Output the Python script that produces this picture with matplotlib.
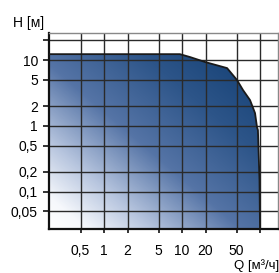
import numpy as np
import matplotlib
matplotlib.use('Agg')
import matplotlib.pyplot as plt
from matplotlib.colors import LinearSegmentedColormap
from matplotlib.patches import Polygon

plt.rcParams['font.family'] = ['Liberation Sans Narrow', 'Liberation Sans', 'DejaVu Sans']

# pump field envelope (Q in m3/h, H in m)
q_curve = [0.2, 9.4, 12.7, 20, 37.8, 50.7, 60.5, 74.5, 86.3, 91.5, 94, 98.5, 100]
h_curve = [12.3, 12.3, 11.1, 9.3, 7.55, 4.97, 3.5, 2.46, 1.56, 0.95, 0.86, 0.149, 0.027]

x_ticks = [0.5, 1, 2, 5, 10, 20, 50, 100]
x_labels = ['0,5', '1', '2', '5', '10', '20', '50', '']
y_ticks = [0.05, 0.1, 0.2, 0.5, 1, 2, 5, 10, 20]
y_labels = ['0,05', '0,1', '0,2', '0,5', '1', '2', '5', '10', '']

xmin, xmax = 0.197, 170
ymin, ymax = 0.027, 25.8

fig = plt.figure(figsize=(2.79, 2.73), dpi=100)
ax = fig.add_axes([49 / 279, 44 / 273, 229 / 279, 196 / 273])
ax.set_xscale('log')
ax.set_yscale('log')
ax.set_xlim(xmin, xmax)
ax.set_ylim(ymin, ymax)

# gradient fill clipped to the envelope
cmap = LinearSegmentedColormap.from_list('pump', [
    (0.0, '#ffffff'), (0.08, '#f6f8fc'), (0.22, '#b8c6df'),
    (0.42, '#5574a6'), (0.65, '#2d5589'), (1.0, '#07356a')])
u, v = np.meshgrid(np.linspace(0, 1, 300), np.linspace(0, 1, 300))
grad = np.clip((u + v) / 2.0, 0, 1)
img = ax.imshow(grad, cmap=cmap, vmin=0, vmax=1, origin='lower',
                extent=[0, 1, 0, 1], transform=ax.transAxes,
                aspect='auto', zorder=0.5, interpolation='bilinear')
pts = list(zip(q_curve, h_curve)) + [(xmin, ymin)]
poly = Polygon(pts, closed=True, transform=ax.transData,
               facecolor='none', edgecolor='none')
ax.add_patch(poly)
img.set_clip_path(poly)

ax.plot(q_curve, h_curve, color='#1a1a1a', lw=1.3, zorder=3)

ax.set_xticks(x_ticks)
ax.set_xticklabels(x_labels)
ax.set_yticks(y_ticks)
ax.set_yticklabels(y_labels)
ax.minorticks_off()
ax.tick_params(axis='both', direction='out', width=1.2,
               color='#111111', labelsize=10)
ax.tick_params(axis='x', length=3, pad=7.5)
ax.tick_params(axis='y', length=4.5, pad=3.5)
ax.grid(True, color='#2a2a2a', lw=1.0, zorder=1.5)

for side in ['left', 'bottom']:
    ax.spines[side].set_linewidth(1.6)
    ax.spines[side].set_color('#111111')
for side in ['top', 'right']:
    ax.spines[side].set_linewidth(1.0)
    ax.spines[side].set_color('#888888')

fig.text(13 / 279, 1 - 23 / 273, 'H [м]', fontsize=10, va='center', ha='left')
fig.text(279 / 279, 1 - 265.5 / 273, 'Q [м³/ч]', fontsize=9.5, va='center', ha='right')

fig.savefig('out.png', dpi=100)
